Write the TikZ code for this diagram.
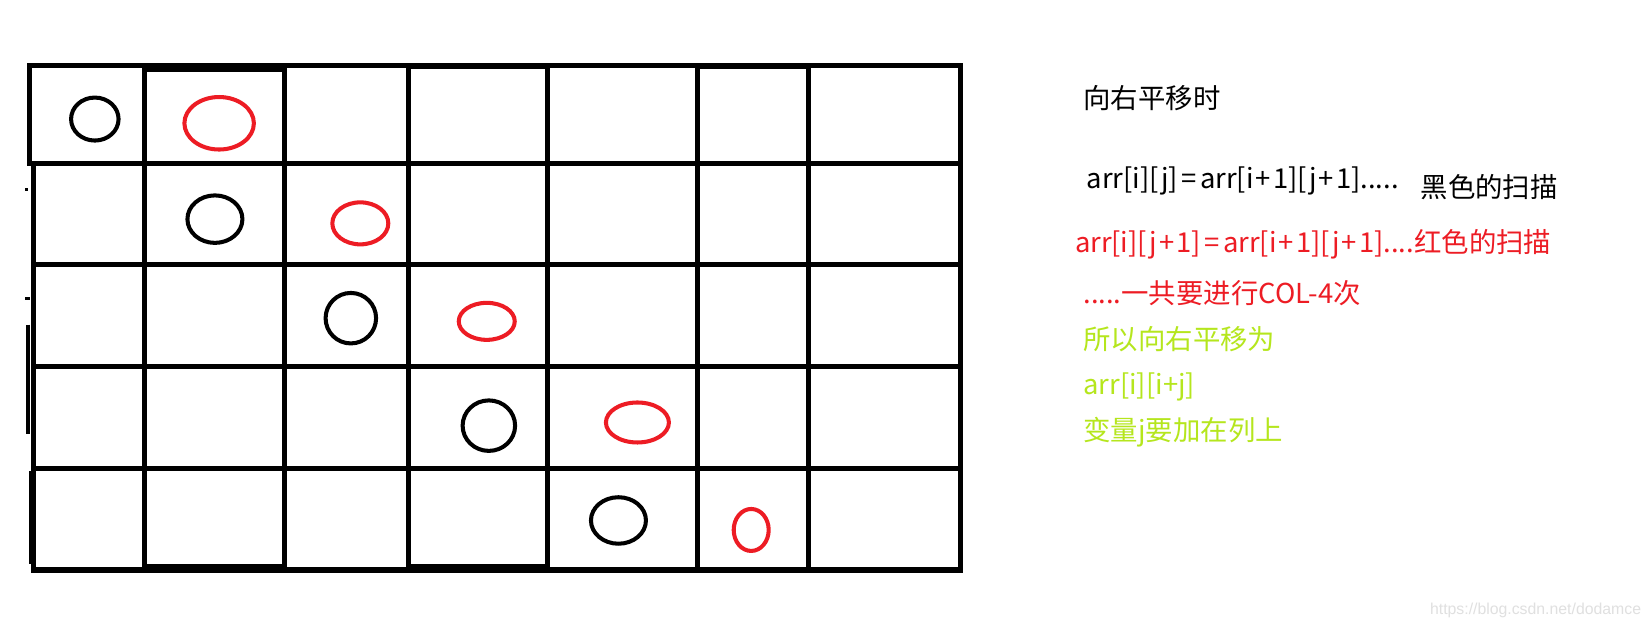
\documentclass[tikz,border=0pt]{standalone}
\usepackage{fontspec}
\newfontfamily\cjk{Noto Sans CJK SC}
\newfontfamily\wmfont{Liberation Sans}
\usetikzlibrary{positioning,shapes.geometric}
\definecolor{paintred}{HTML}{ED1C24}
\definecolor{paintlime}{HTML}{B5E61D}
\newcommand\pl{\kern1.2pt+\kern1.2pt}
\newcommand\eq{\kern2pt=\kern2pt}
\tikzset{
	gridline/.style = {line width=2.95pt, line cap=rect},
	blackmark/.style = {draw, ellipse, line width=2.3pt, inner sep=0pt},
	redmark/.style = {blackmark, draw=paintred},
	note/.style = {anchor=west, inner sep=0pt, font=\cjk\fontsize{15.6}{19}\selectfont},
}
\begin{document}
\begin{tikzpicture}[x=0.021071cm, y=-0.021071cm]
	\useasboundingbox[fill=white] (0,0) rectangle (1568,602);
	% the grid
	\draw[gridline] (28,62) -- (912,62);
	\foreach \y in {155,251,348,445,541}
		\draw[gridline] (32,\y) -- (912,\y);
	\draw[gridline] (28,155) -- (32,155);
	\draw[gridline] (28,62) -- (28,155);
	\draw[gridline] (32,155) -- (32,541);
	\foreach \x in {137,270,388,520,662,767,912}
		\draw[gridline] (\x,62) -- (\x,541);
	% the column boxes
	\draw[gridline] (137,66) rectangle (270,538);
	\draw[gridline] (388,63) rectangle (520,538);
	\draw[gridline] (662,63) rectangle (767,541);
	% stray marks on the left
	\draw[line width=1.6pt] (24,180) -- (27,180);
	\draw[line width=1.6pt] (24,283) -- (28,283);
	\draw[line width=2.3pt] (27,308) -- (27,412);
	\draw[line width=1.6pt] (29,447) -- (29,535);
	% black scan
	\node[blackmark, minimum width=0.95cm, minimum height=0.86cm] (b1) at (90,113) {};
	\node[blackmark, minimum width=1.10cm, minimum height=0.95cm] (b2) at (204,208) {};
	\node[blackmark, minimum width=1.01cm, minimum height=1.01cm] (b3) at (333,302) {};
	\node[blackmark, minimum width=1.05cm, minimum height=1.01cm] (b4) at (464,404) {};
	\node[blackmark, minimum width=1.10cm, minimum height=0.93cm] (b5) at (587,494) {};
	% red scan
	\node[redmark, minimum width=1.39cm, minimum height=1.05cm] (r1) at (208,117) {};
	\node[redmark, minimum width=1.12cm, minimum height=0.84cm] (r2) at (342,212) {};
	\node[redmark, minimum width=1.12cm, minimum height=0.74cm] (r3) at (462,305) {};
	\node[redmark, minimum width=1.26cm, minimum height=0.80cm] (r4) at (605,401) {};
	\node[redmark, minimum width=0.70cm, minimum height=0.84cm] (r5) at (713,503) {};
	% notes
	\node[note] (title) at (1028,93) {向右平移时};
	\node[note] (blackeq) at (1031,172) {arr[i][j]\eq arr[i\pl 1][j\pl 1].....};
	\node[note] (blackname) at (1348,178) {黑色的扫描};
	\node[note, text=paintred] (redeq) at (1020,232) {arr[i][j\pl 1]\eq arr[i\pl 1][j\pl 1]....红色的扫描};
	\node[note, text=paintred] (count) at (1028,278) {.....一共要进行COL-4次};
	\node[note, text=paintlime] (so) at (1028,322) {所以向右平移为};
	\node[note, text=paintlime] (result) at (1028,367) {arr[i][i+j]};
	\node[note, text=paintlime] (col) at (1028,410) {变量j要加在列上};
	\node[anchor=west, inner sep=0pt, text=black!12, font=\wmfont\fontsize{9}{10}\selectfont] (mark) at (1357,579) {https://blog.csdn.net/dodamce};
\end{tikzpicture}
\end{document}
